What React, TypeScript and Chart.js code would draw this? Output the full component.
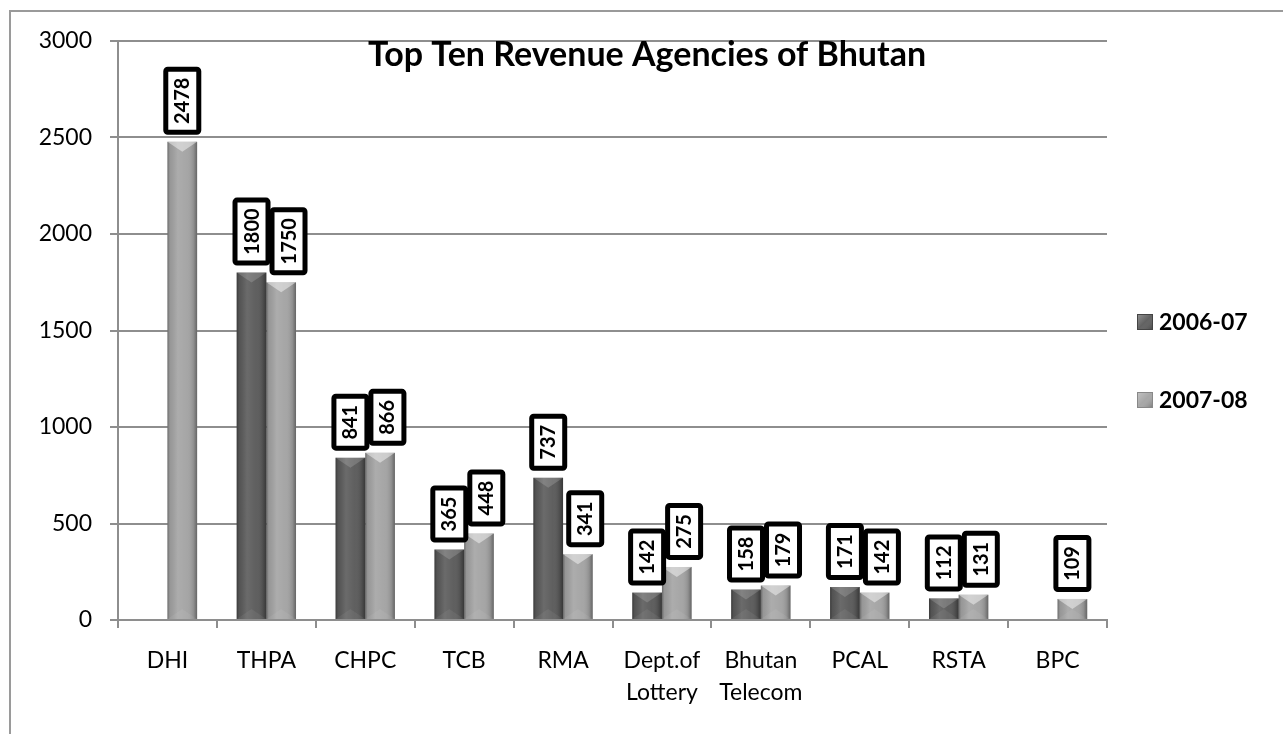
import React, { useEffect, useRef } from 'react';
import { Chart, registerables } from 'chart.js';

Chart.register(...registerables);

const chartTitle = 'Top Ten Revenue Agencies of Bhutan';
const categories: (string | string[])[] = [
  'DHI', 'THPA', 'CHPC', 'TCB', 'RMA',
  ['Dept.of', 'Lottery'], ['Bhutan', 'Telecom'], 'PCAL', 'RSTA', 'BPC',
];
const seriesNames = ['2006-07', '2007-08'];
const values2006: (number | null)[] = [null, 1800, 841, 365, 737, 142, 158, 171, 112, null];
const values2007: (number | null)[] = [2478, 1750, 866, 448, 341, 275, 179, 142, 131, 109];
const yMin = 0;
const yMax = 3000;
const yStep = 500;

const seriesColors = ['#5a5a5a', '#a3a3a3'];
const FONT = 'Lato, "Open Sans", sans-serif';
const GRID = '#8e8e8e';

const framePlugin = {
  id: 'frame',
  beforeDraw(chart: any) {
    const ctx = chart.ctx;
    ctx.save();
    ctx.fillStyle = '#fff';
    ctx.fillRect(0, 0, chart.width, chart.height);
    ctx.strokeStyle = '#9a9a9a';
    ctx.lineWidth = 2;
    ctx.beginPath();
    ctx.moveTo(10, chart.height);
    ctx.lineTo(10, 11);
    ctx.lineTo(chart.width, 11);
    ctx.stroke();
    ctx.restore();
  },
};

const barShadePlugin = {
  id: 'barShade',
  afterDatasetsDraw(chart: any) {
    const ctx = chart.ctx;
    chart.data.datasets.forEach((ds: any, di: number) => {
      const meta = chart.getDatasetMeta(di);
      meta.data.forEach((el: any, i: number) => {
        if (ds.data[i] == null) return;
        const { x, y, base, width } = el.getProps(['x', 'y', 'base', 'width'], true);
        const l = x - width / 2;
        const r = x + width / 2;
        ctx.save();
        const g = ctx.createLinearGradient(l, 0, r, 0);
        g.addColorStop(0, 'rgba(0,0,0,0.35)');
        g.addColorStop(0.08, 'rgba(0,0,0,0.08)');
        g.addColorStop(0.35, 'rgba(255,255,255,0.10)');
        g.addColorStop(0.65, 'rgba(255,255,255,0.03)');
        g.addColorStop(0.88, 'rgba(0,0,0,0.12)');
        g.addColorStop(1, 'rgba(0,0,0,0.38)');
        ctx.fillStyle = g;
        ctx.fillRect(l, y, width, base - y);
        const h = Math.min(10, (base - y) / 2);
        ctx.fillStyle = di === 0 ? 'rgba(255,255,255,0.16)' : 'rgba(255,255,255,0.45)';
        ctx.beginPath();
        ctx.moveTo(l, y);
        ctx.lineTo(r, y);
        ctx.lineTo(x, y + h);
        ctx.closePath();
        ctx.fill();
        ctx.fillStyle = 'rgba(255,255,255,0.06)';
        ctx.beginPath();
        ctx.moveTo(l, base);
        ctx.lineTo(r, base);
        ctx.lineTo(x, base - h);
        ctx.closePath();
        ctx.fill();
        ctx.restore();
      });
    });
  },
};

const labelPlugin = {
  id: 'valueBoxes',
  afterDatasetsDraw(chart: any) {
    const ctx = chart.ctx;
    ctx.save();
    ctx.font = `bold 20px ${FONT}`;
    const n = chart.data.labels.length;
    for (let i = 0; i < n; i++) {
      let prevRight = -Infinity;
      for (let di = 0; di < chart.data.datasets.length; di++) {
        const v = chart.data.datasets[di].data[i];
        if (v == null) continue;
        const el = chart.getDatasetMeta(di).data[i];
        const text = String(v);
        const tw = ctx.measureText(text).width;
        const bw = 38;
        const bh = Math.round(tw + 22);
        let cx = el.x;
        if (cx - bw / 2 < prevRight - 1) cx = prevRight - 1 + bw / 2;
        const bottom = el.y - 7;
        const top = bottom - bh;
        const lw = 5;
        ctx.beginPath();
        ctx.roundRect(cx - bw / 2 + lw / 2, top + lw / 2, bw - lw, bh - lw, 2);
        ctx.fillStyle = '#fff';
        ctx.fill();
        ctx.lineWidth = lw;
        ctx.strokeStyle = '#000';
        ctx.stroke();
        ctx.save();
        ctx.translate(cx, top + bh / 2);
        ctx.rotate(-Math.PI / 2);
        ctx.textAlign = 'center';
        ctx.textBaseline = 'alphabetic';
        ctx.fillStyle = '#000';
        ctx.fillText(text, 0, 7);
        ctx.restore();
        prevRight = cx + bw / 2;
      }
    }
    ctx.restore();
  },
};

const titleLegendPlugin = {
  id: 'titleLegend',
  afterDraw(chart: any) {
    const ctx = chart.ctx;
    ctx.save();
    ctx.fillStyle = '#000';
    ctx.font = `bold 34px ${FONT}`;
    ctx.textAlign = 'center';
    ctx.textBaseline = 'alphabetic';
    ctx.fillText(chartTitle, 647, 66);

    const rows = [330, 408];
    ctx.font = `bold 23px ${FONT}`;
    ctx.textAlign = 'left';
    seriesNames.forEach((name, k) => {
      const base = rows[k];
      const bx = 1137;
      const by = base - 16;
      ctx.fillStyle = seriesColors[k];
      ctx.fillRect(bx, by, 16, 16);
      const g = ctx.createLinearGradient(bx, by, bx + 16, by + 16);
      g.addColorStop(0, 'rgba(255,255,255,0.35)');
      g.addColorStop(0.5, 'rgba(255,255,255,0.05)');
      g.addColorStop(1, 'rgba(0,0,0,0.3)');
      ctx.fillStyle = g;
      ctx.fillRect(bx, by, 16, 16);
      ctx.strokeStyle = k === 0 ? '#444' : '#888';
      ctx.lineWidth = 1;
      ctx.strokeRect(bx + 0.5, by + 0.5, 15, 15);
      ctx.fillStyle = '#000';
      ctx.fillText(name, 1159, base);
    });
    ctx.restore();
  },
};

export default function App() {
  const ref = useRef<HTMLCanvasElement>(null);

  useEffect(() => {
    const canvas = ref.current;
    if (!canvas) return;
    const chart = new Chart(canvas, {
      type: 'bar',
      data: {
        labels: categories,
        datasets: [
          {
            label: seriesNames[0],
            data: values2006,
            backgroundColor: seriesColors[0],
            borderWidth: 0,
            categoryPercentage: 0.6,
            barPercentage: 1,
          },
          {
            label: seriesNames[1],
            data: values2007,
            backgroundColor: seriesColors[1],
            borderWidth: 0,
            categoryPercentage: 0.6,
            barPercentage: 1,
          },
        ],
      },
      options: {
        responsive: false,
        animation: false,
        devicePixelRatio: 1,
        layout: { padding: { top: 41, right: 176, left: 0, bottom: 0 } },
        plugins: {
          legend: { display: false },
          title: { display: false },
          tooltip: { enabled: false },
        },
        scales: {
          x: {
            ticks: {
              font: { family: FONT, size: 23, lineHeight: 1.4 },
              color: '#000',
              padding: 16,
              maxRotation: 0,
              autoSkip: false,
            },
            grid: {
              drawOnChartArea: false,
              drawTicks: true,
              tickLength: 8,
              color: GRID,
              lineWidth: 2,
              offset: true,
            },
            border: { color: GRID, width: 2 },
            afterFit: (s: any) => {
              s.height = 114;
            },
          },
          y: {
            min: yMin,
            max: yMax,
            ticks: {
              stepSize: yStep,
              font: { family: FONT, size: 23 },
              color: '#000',
              padding: 18,
              callback: (v: any) => String(v),
            },
            grid: { color: GRID, lineWidth: 2, tickLength: 8 },
            border: { color: GRID, width: 2 },
            afterFit: (s: any) => {
              s.width = 118;
            },
          },
        },
      },
      plugins: [framePlugin, barShadePlugin, labelPlugin, titleLegendPlugin],
    });
    return () => chart.destroy();
  }, []);

  return (
    <canvas
      ref={ref}
      width={1283}
      height={734}
      style={{ position: 'fixed', left: 0, top: 0, width: 1283, height: 734, display: 'block' }}
    />
  );
}
